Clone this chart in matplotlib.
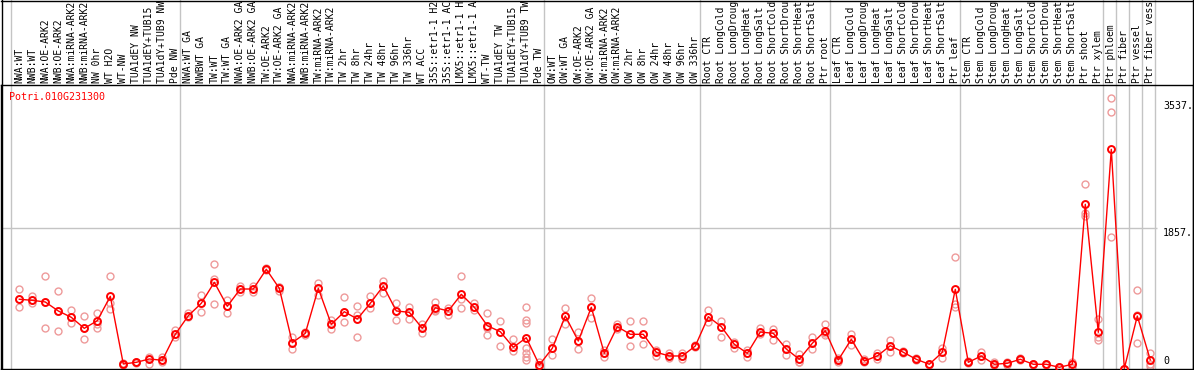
import matplotlib
matplotlib.use("Agg")
import matplotlib.pyplot as plt
from matplotlib.lines import Line2D
from matplotlib.transforms import blended_transform_factory

plt.rcParams['font.family'] = 'DejaVu Sans Mono'
plt.rcParams['font.size'] = 7.2

gene = "Potri.010G231300"

labels = [
    "NWA:WT", "NWB:WT", "NWA:OE-ARK2", "NWB:OE-ARK2", "NWA:miRNA-ARK2", "NWB:miRNA-ARK2",
    "NW 0hr", "WT H2O", "WT-NW", "TUA1dEY NW", "TUA1dEY+TUB15 NW", "TUA1dY+TUB9 NW", "Pde NW",
    "NWA:WT GA", "NWBWT GA", "TW:WT", "TW:WT GA", "NWA:OE-ARK2 GA", "NWB:OE-ARK2 GA",
    "TW:OE-ARK2", "TW:OE-ARK2 GA", "NWA:miRNA-ARK2 GA", "NWB:miRNA-ARK2 GA", "TW:miRNA-ARK2",
    "TW:miRNA-ARK2 GA", "TW 2hr", "TW 8hr", "TW 24hr", "TW 48hr", "TW 96hr", "TW 336hr",
    "WT ACC", "35S::etr1-1 H2O", "35S::etr1-1 ACC", "LMX5::etr1-1 H2O", "LMX5::etr1-1 ACC",
    "WT-TW", "TUA1dEY TW", "TUA1dEY+TUB15 TW", "TUA1dY+TUB9 TW", "Pde TW",
    "OW:WT", "OW:WT GA", "OW:OE-ARK2", "OW:OE-ARK2 GA", "OW:miRNA-ARK2", "OW:miRNA-ARK2 GA",
    "OW 2hr", "OW 8hr", "OW 24hr", "OW 48hr", "OW 96hr", "OW 336hr",
    "Root CTR", "Root LongCold", "Root LongDrought", "Root LongHeat", "Root LongSalt",
    "Root ShortCold", "Root ShortDrought", "Root ShortHeat", "Root ShortSalt", "Ptr root",
    "Leaf CTR", "Leaf LongCold", "Leaf LongDrought", "Leaf LongHeat", "Leaf LongSalt",
    "Leaf ShortCold", "Leaf ShortDrought", "Leaf ShortHeat", "Leaf ShortSalt", "Ptr leaf",
    "Stem CTR", "Stem LongCold", "Stem LongDrought", "Stem LongHeat", "Stem LongSalt",
    "Stem ShortCold", "Stem ShortDrought", "Stem ShortHeat", "Stem ShortSalt", "Ptr shoot",
    "Ptr xylem", "Ptr phloem", "Ptr fiber", "Ptr vessel", "Ptr fiber vessel",
]

# mean expression per sample
means = [
    917, 903, 881, 762, 678, 532, 633, 956, 60, 82, 126, 109, 453,
    699, 864, 1142, 824, 1053, 1053, 1314, 1062, 342, 466, 1062, 585,
    752, 656, 864, 1093, 762, 744, 532, 805, 762, 983, 811, 567, 487, 281, 408, 46,
    268, 695, 364, 811, 201, 554, 453, 453, 215, 166, 166, 298,
    686, 554, 321, 201, 483, 466, 258, 122, 334, 501,
    113, 387, 99, 166, 302, 215, 122, 56, 215, 1049,
    82, 166, 56, 69, 122, 56, 56, 16, 56, 2175, 479,
    2903, 0, 695, 113,
]

# replicate values per sample
reps = [
    [1049, 811, 917], [960, 864, 903], [1225, 532, 881], [1026, 497, 762],
    [775, 599, 678], [699, 391, 532], [731, 532, 589], [1225, 784, 864],
    [50, 70, 60], [90, 75, 82], [156, 60, 126], [156, 90, 109], [510, 413, 453],
    [731, 678, 699], [970, 752, 864], [1380, 1185, 850], [907, 731, 824],
    [1093, 1017, 1053], [1093, 1017, 1053], [1314, 1300, 1330], [1075, 1030, 1080],
    [421, 254, 342], [466, 450, 480], [1136, 974, 1062], [642, 519, 585],
    [943, 612, 752], [832, 709, 421], [960, 805, 864], [1159, 1004, 1093],
    [872, 642, 762], [811, 656, 744], [589, 474, 532], [885, 775, 755],
    [797, 709, 762], [1225, 921, 797], [864, 775, 811], [731, 530, 450],
    [633, 302, 487], [391, 232, 281],
    [819, 642, 599, 268, 201, 156, 113], [46, 90, 20],
    [391, 179, 268], [805, 589, 695], [479, 254, 364], [930, 673, 811],
    [156, 245, 201], [589, 519, 554], [629, 298, 453], [629, 325, 453],
    [245, 166, 215], [201, 135, 166], [201, 125, 166], [298, 290, 305],
    [775, 620, 686], [629, 421, 554], [355, 268, 321], [245, 156, 201],
    [540, 453, 483], [523, 377, 466], [325, 179, 258], [192, 90, 84],
    [413, 262, 334], [585, 474, 450],
    [140, 90, 113], [457, 311, 387], [130, 80, 99], [201, 122, 166],
    [377, 223, 302], [215, 200, 230], [122, 110, 135], [56, 50, 60],
    [275, 143, 215], [1473, 819, 855],
    [82, 100, 70], [220, 113, 166], [56, 80, 40], [69, 90, 50], [122, 110, 135],
    [56, 45, 65], [56, 45, 65], [16, 10, 20], [90, 16, 56],
    [2440, 2064, 2020], [652, 413, 377],
    [3579, 3393, 1738], [0, 0, 0], [1036, 334, 715], [209, 60, 33],
]

group_starts = [0, 13, 41, 53, 63, 73, 84, 85, 86, 87, 88]
ytick_vals = [3537, 1857, 0]

W, H = 1194, 370
fig = plt.figure(figsize=(W / 100, H / 100), dpi=100)
ax = fig.add_axes([1 / W, 1 / H, 1192 / W, 284 / H])

x0, dx = 19.3, 13.0  # pixel position of first column and spacing
ax.set_xlim((1 - x0) / dx, (1193 - x0) / dx)
ax.set_ylim(-6.6, 3755)
ax.set_xticks([])
ax.set_yticks([])
for s in ['left', 'bottom', 'top', 'right']:
    ax.spines[s].set_color('black')
    ax.spines[s].set_linewidth(1.0)

xs = list(range(len(means)))
grey = '#C4C4C4'

# group separators run through the header too
top_frac = 1 + 85 / 284
for g in group_starts:
    ax.plot([g - 0.615, g - 0.615], [0, top_frac], color=grey, lw=1.0,
            transform=blended_transform_factory(ax.transData, ax.transAxes),
            clip_on=False, zorder=1)

x_right = (1157 - x0) / dx
ax.hlines(1857, ax.get_xlim()[0], x_right, color=grey, lw=1.0, zorder=1)

for i, r in enumerate(reps):
    ax.plot([i] * len(r), r, linestyle='none', marker='o', ms=5, mfc='none',
            mec='#EE9A9A', mew=1.0, zorder=2, clip_on=False)

ax.plot(xs, means, color='#FF0000', lw=1.0, marker='o', ms=5, mfc='none',
        mec='#FF0000', mew=1.4, zorder=3, clip_on=False)

# header sample names, cut to 14 characters like the source page
hdr = blended_transform_factory(ax.transData, ax.transAxes)
for i, lab in enumerate(labels):
    ax.text(i, 1 + 2 / 284, lab[:14], rotation=90, ha='center', va='bottom',
            transform=hdr, clip_on=False, color='black', fontsize=7.0)

ax.text(-0.8, 3596, gene, color='#FF0000', ha='left', va='center')

xt = (1163 - x0) / dx
ax.text(xt, 3537, "%d." % ytick_vals[0], ha='left', va='top')
ax.text(xt, 1857, "%d." % ytick_vals[1], ha='left', va='top')
ax.text(xt, 30, "%d" % ytick_vals[2], ha='left', va='bottom')

# outer frame
fig.add_artist(Line2D([1 / W, 1193 / W], [1 - 0.5 / H, 1 - 0.5 / H], color='black', lw=1.0))
fig.add_artist(Line2D([1.5 / W, 1.5 / W], [1 / H, 1], color='black', lw=1.0))
fig.add_artist(Line2D([1193 / W, 1193 / W], [1 / H, 1], color='black', lw=1.0))

fig.savefig('out.png', dpi=100)
